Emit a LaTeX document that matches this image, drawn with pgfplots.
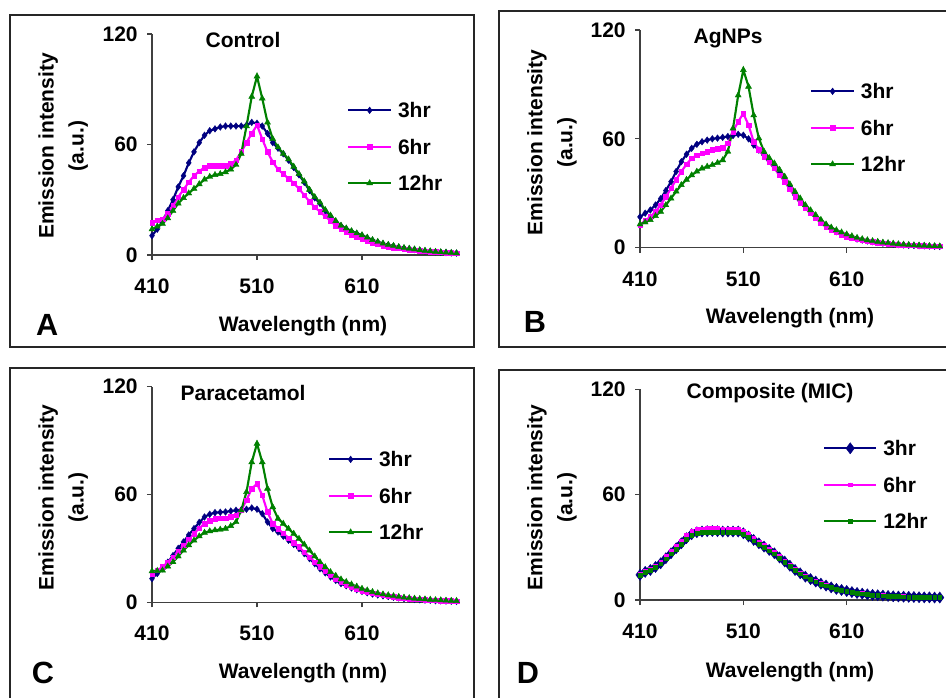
\documentclass[border=0pt]{standalone}
\usepackage{fontspec}
\setmainfont{Liberation Sans}
\usepackage{pgfplots}
\usepackage{pgfplotstable}
\pgfplotsset{compat=1.18}
\definecolor{cnavy}{RGB}{0,0,128}
\definecolor{cmag}{RGB}{255,0,255}
\definecolor{cgreen}{RGB}{0,128,0}
\newcommand{\fs}{\fontsize{15.75}{18}\selectfont\bfseries}
\newcommand{\lf}{\fontsize{23}{26}\selectfont\bfseries}

\pgfplotstableread{
nm h3 h6 h12
410 10.5 17.5 14
415 14 19 15.5
420 18.5 19.5 17
425 24 22.5 20
430 30 27 24
435 37 31.5 28
440 43 35.5 31
445 50 39.5 33.5
450 56 43 36
455 61 45.5 38.5
460 65 47.5 41
465 67.5 48.5 42.5
470 68.5 48.5 43.5
475 69.5 48.5 44
480 70 48.5 45
485 70 49.5 46.5
490 70 51.5 49
495 70 56 55
500 70.5 61 70
505 72 66 86
510 71.5 70.5 97
515 70 63 85
520 66 56 72
525 61 50.5 63
530 58 46.5 58.5
535 55 44 55
540 51.5 41.5 52
545 47.5 39 48
550 43.5 36 44
555 39.5 32.5 40
560 35 29 35.5
565 31 26 31.5
570 28 23.5 28.5
575 24 21 24.5
580 21 18.5 21.5
585 18 16 18.5
590 15.8 14 16
595 14.2 12.5 14.5
600 12.8 11 13
605 11.6 9.8 11.8
610 10.5 8.6 10.8
615 9.3 7.5 9.5
620 8 6.6 8.2
625 7 5.8 7.2
630 6.1 5.1 6.3
635 5.4 4.5 5.6
640 4.8 4 5
645 4.2 3.6 4.4
650 3.7 3.2 3.9
655 3.3 2.9 3.5
660 2.9 2.6 3.1
665 2.5 2.3 2.7
670 2.2 2.1 2.4
675 1.9 1.9 2.1
680 1.7 1.7 1.8
685 1.5 1.5 1.6
690 1.3 1.3 1.4
695 1.1 1.2 1.2
700 1.0 1.1 1.0
}\tabA

\pgfplotstableread{
nm h3 h6 h12
410 17 12.5 12.9
415 19 15 14
420 20.8 17 15.3
425 23.5 20 17.5
430 27 23.5 19.9
435 31.5 28 23.5
440 36.4 32.7 27.2
445 42 37.5 31
450 47.4 42 34.6
455 51.5 46 37.5
460 54.8 49.3 40
465 57 51 42
470 58.4 52 43.7
475 59.3 53 44.7
480 60 53.9 45.6
485 60.4 54.5 46.8
490 60.8 55.1 48.3
495 61.3 57.5 53
500 61.8 64 65.8
505 62.5 69.5 84
510 62 74 98
515 60 67.6 88.8
520 56.6 58.4 73
525 53.8 53.9 60.3
530 51 50.2 53
535 48 47 49.5
540 44.7 43.7 46.5
545 41 40 43
550 37.3 36.4 39.2
555 33 32.2 35
560 29 28 30.9
565 25.8 24.8 27.2
570 22.6 21.7 23.5
575 19.8 18.9 20.7
580 17 16.2 18
585 14.7 13.8 15.4
590 12.5 11.6 12.9
595 10.6 10 11.2
600 8.8 8.5 9.7
605 7.6 7.2 8.5
610 6.6 6.1 7.4
615 5.7 5.3 6.4
620 4.8 4.6 5.5
625 4.2 4.1 4.8
630 3.7 3.6 4.2
635 3.3 3.2 3.7
640 2.9 2.8 3.3
645 2.5 2.5 2.9
650 2.2 2.2 2.6
655 1.9 1.9 2.3
660 1.7 1.7 2
665 1.5 1.5 1.8
670 1.3 1.4 1.6
675 1.2 1.3 1.4
680 1.1 1.1 1.3
685 1 1 1.2
690 0.9 0.9 1
695 0.8 0.8 0.9
700 0.7 0.7 0.8
}\tabB

\pgfplotstableread{
nm h3 h6 h12
410 13.2 16 17.3
415 16 17.8 17.5
420 18.7 19.7 17.8
425 22.3 22.3 20
430 26 25.2 22.4
435 30 28.5 25.6
440 33.6 31.7 28.9
445 37.5 35 31.8
450 41 38.2 34.5
455 44.5 41.2 36.8
460 47.5 43.8 38.8
465 49 45.5 39.6
470 49.9 46.6 40.1
475 50.1 46.8 40.5
480 50.3 46.9 41
485 50.8 47.6 42.5
490 51.2 48.4 44.7
495 51.5 51.2 51.2
500 51.8 56.8 61.4
505 52.5 63.3 78
510 51.8 66 88.3
515 49.3 59.5 78
520 44.7 50.3 63.3
525 41 43.8 53
530 39.1 41 46.6
535 36.8 38.4 43.8
540 34.5 35.8 41
545 32.2 33.3 38.2
550 29.9 30.8 35.4
555 27.1 28 32.2
560 24.3 25.2 28.9
565 21.5 22.4 25.6
570 18.7 19.7 22.4
575 16.4 17.3 19.6
580 14.1 15 16.9
585 12.2 13.1 14.8
590 10.4 11.3 12.8
595 9.2 9.9 11.4
600 8 8.5 10
605 7 7.5 8.8
610 6.1 6.5 7.6
615 5.3 5.7 6.7
620 4.6 5 5.8
625 4.1 4.4 5.1
630 3.6 3.9 4.5
635 3.2 3.4 4
640 2.8 3 3.5
645 2.4 2.6 3.1
650 2.1 2.3 2.7
655 1.8 2 2.4
660 1.6 1.8 2.1
665 1.4 1.6 1.9
670 1.2 1.4 1.7
675 1.1 1.3 1.5
680 0.9 1.1 1.3
685 0.8 1 1.2
690 0.7 0.9 1
695 0.6 0.8 0.9
700 0.5 0.7 0.8
}\tabC

\pgfplotstableread{
nm h3 h6 h12
410 14.3 14.8 14.2
415 16 16.5 15.8
420 17.1 17.8 17
425 18.8 19.6 18.6
430 20.9 21.8 20.6
435 23.8 24.8 23.5
440 26.6 27.8 26.3
445 29.5 30.8 29.1
450 32.3 33.8 31.9
455 35.2 36.8 34.8
460 37.5 39.2 37.1
465 38.6 40.3 38.1
470 39 40.6 38.5
475 39.2 40.8 38.7
480 39.3 40.9 38.8
485 39.2 40.8 38.7
490 39 40.6 38.5
495 39 40.5 38.5
500 39 40.5 38.5
505 39 40.3 38.5
510 38 39.2 37.6
515 36.2 37.3 35.8
520 34.2 35.2 33.8
525 32.3 33.2 31.9
530 30.4 31.2 30
535 28.5 29.2 28.1
540 26.6 27.2 26.3
545 24.2 24.8 23.9
550 21.9 22.4 21.6
555 19.5 20 19.3
560 17.1 17.5 16.9
565 15.2 15.6 15
570 13.3 13.6 13.2
575 11.9 12.2 11.8
580 10.5 10.8 10.4
585 9.3 9.6 9.2
590 8.2 8.4 8.1
595 7.2 7.4 7.2
600 6.3 6.5 6.3
605 5.7 5.8 5.7
610 5.1 5.2 5.1
615 4.5 4.6 4.5
620 4 4.1 4
625 3.6 3.7 3.6
630 3.2 3.3 3.2
635 2.9 3 2.9
640 2.7 2.8 2.7
645 2.5 2.6 2.5
650 2.3 2.4 2.3
655 2.1 2.2 2.1
660 2 2.1 2
665 1.9 2 1.9
670 1.8 1.9 1.8
675 1.7 1.8 1.7
680 1.6 1.7 1.6
685 1.5 1.6 1.5
690 1.5 1.6 1.5
695 1.4 1.5 1.4
700 1.4 1.5 1.4
}\tabD

\pgfplotsset{
  panel/.style={
    scale only axis, anchor=south west,
    xmin=410, xmax=702, ymin=0, ymax=120,
    axis lines=left, axis line style={-, black!75, line width=0.8pt},
    xtick={410,510,610}, ytick={0,60,120},
    tick align=outside, major tick length=3.75pt,
    tick style={black!75, line width=0.8pt},
    /pgf/number format/assume math mode=true,
    tick label style={font=\fs},
    xticklabel style={yshift=-10.5pt},
    yticklabel style={xshift=-3.5pt},
    label style={font=\fs},
    title style={font=\fs, anchor=center, yshift=-6pt},
    xlabel={Wavelength (nm)},
    ylabel={Emission intensity\\(a.u.)},
    ylabel style={align=center, font=\fontsize{15.75}{22.5}\selectfont\bfseries, anchor=center},
    clip=false,
    legend cell align=left,
    legend image code/.code={\draw[mark repeat=2,mark phase=2,##1] plot coordinates {(0pt,0pt)(16pt,0pt)(32pt,0pt)};},
    legend style={draw=none, fill=none, anchor=north west, font=\fs, inner sep=0pt,
      row sep=16pt, column sep=4.5pt,
      nodes={inner sep=0pt, text height=11.3pt, text depth=0pt}},
  },
  s3/.style={color=cnavy, line width=1.6pt, mark=diamond*, mark size=2.5pt, mark options={line width=0.3pt}},
  s6/.style={color=cmag, line width=1.6pt, mark=square*, mark size=1.7pt, mark options={line width=0.3pt}},
  s12/.style={color=cgreen, line width=1.6pt, mark=triangle*, mark size=2.6pt, mark options={line width=0.3pt}},
}

\begin{document}
\begin{tikzpicture}
\begin{scope}[x=0.75pt,y=-0.75pt]
\useasboundingbox (0,0) rectangle (946,698);
\draw[line width=0.9pt, black!85] (10,15) rectangle (474,347);
\draw[line width=0.9pt, black!85] (499,11) rectangle (952,347);
\draw[line width=0.9pt, black!85] (10,368) rectangle (474,704);
\draw[line width=0.9pt, black!85] (499,370) rectangle (952,704);
\end{scope}

% Panel A
\begin{axis}[panel, at={(114pt,-191.25pt)}, width=229.95pt, height=165.75pt,
  title={Control}, title style={at={(axis description cs:0.297,0.973)}},
  xlabel style={at={(axis description cs:0.4925,-0.321)}, anchor=center},
  ylabel style={at={(axis description cs:-0.290,0.493)}},
  legend style={at={(axis description cs:0.636,0.690)}}]
\addplot[s3] table[x=nm,y=h3]{\tabA};
\addplot[s6] table[x=nm,y=h6]{\tabA};
\addplot[s12] table[x=nm,y=h12]{\tabA};
\legend{3hr,6hr,12hr}
\node[font=\lf] at (axis description cs:-0.342,-0.317) {A};
\end{axis}

% Panel B
\begin{axis}[panel, at={(480pt,-185.775pt)}, width=226.35pt, height=163.275pt,
  title={AgNPs}, title style={at={(axis description cs:0.292,0.963)}},
  xlabel style={at={(axis description cs:0.497,-0.323)}, anchor=center},
  ylabel style={at={(axis description cs:-0.292,0.483)}},
  legend style={at={(axis description cs:0.563,0.754)}}]
\addplot[s3] table[x=nm,y=h3]{\tabB};
\addplot[s6] table[x=nm,y=h6]{\tabB};
\addplot[s12] table[x=nm,y=h12]{\tabB};
\legend{3hr,6hr,12hr}
\node[font=\lf] at (axis description cs:-0.348,-0.341) {B};
\end{axis}

% Panel C
\begin{axis}[panel, at={(114pt,-451.725pt)}, width=229.95pt, height=161.7pt,
  title={Paracetamol}, title style={at={(axis description cs:0.297,0.971)}},
  xlabel style={at={(axis description cs:0.4925,-0.328)}, anchor=center},
  ylabel style={at={(axis description cs:-0.290,0.486)}},
  legend style={at={(axis description cs:0.574,0.699)}}]
\addplot[s3] table[x=nm,y=h3]{\tabC};
\addplot[s6] table[x=nm,y=h6]{\tabC};
\addplot[s12] table[x=nm,y=h12]{\tabC};
\legend{3hr,6hr,12hr}
\node[font=\lf] at (axis description cs:-0.356,-0.328) {C};
\end{axis}

% Panel D
\begin{axis}[panel, at={(480pt,-450pt)}, width=226.35pt, height=158.025pt,
  title={Composite (MIC)}, title style={at={(axis description cs:0.431,0.982)}},
  xlabel style={at={(axis description cs:0.497,-0.342)}, anchor=center},
  ylabel style={at={(axis description cs:-0.292,0.486)}},
  legend style={at={(axis description cs:0.606,0.757)}},
  every legend image post/.append style={line width=1.6pt},
  legend image code/.code={\draw[mark repeat=2,mark phase=2,#1] plot coordinates {(0pt,0pt)(19.5pt,0pt)(39pt,0pt)};}]
\addplot[color=cnavy, line width=4.5pt, mark=diamond*, mark size=4.2pt, mark options={line width=0.3pt}] table[x=nm,y=h3]{\tabD};
\addplot[color=cmag, line width=1.6pt, mark=square*, mark size=1.4pt, mark options={line width=0.3pt}] table[x=nm,y=h6]{\tabD};
\addplot[color=cgreen, line width=2.6pt, mark=square*, mark size=1.4pt, mark options={line width=0.3pt}] table[x=nm,y=h12]{\tabD};
\legend{3hr,6hr,12hr}
\node[font=\lf] at (axis description cs:-0.371,-0.346) {D};
\end{axis}
\end{tikzpicture}
\end{document}
